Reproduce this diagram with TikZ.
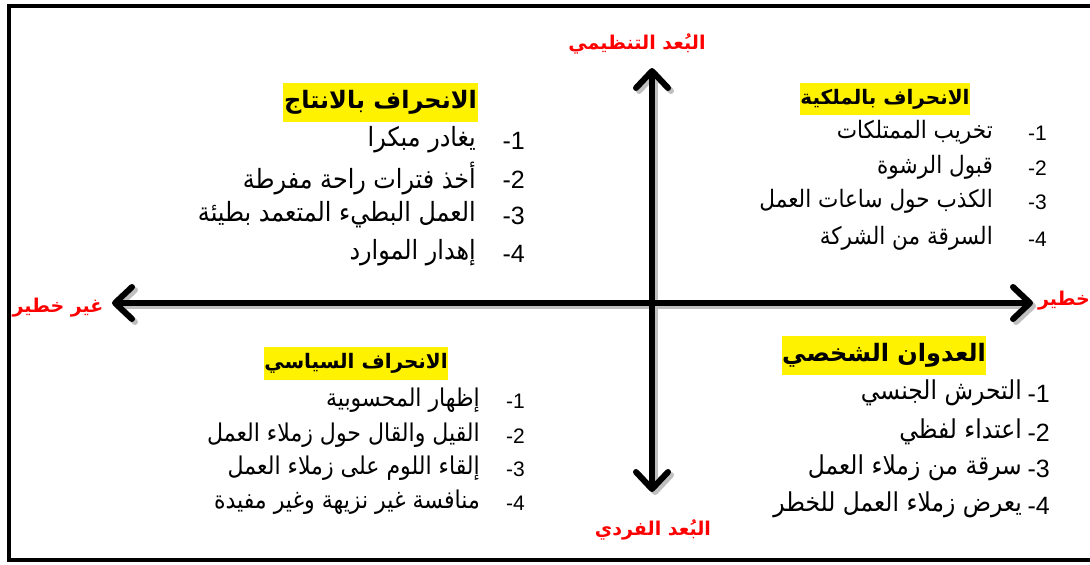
\documentclass[tikz,border=0pt]{standalone}
\usepackage{fontspec}
\setmainfont{Liberation Sans}
\newfontfamily\arabicfont[Script=Arabic, FakeStretch=0.9]{DejaVu Sans}
\newfontfamily\arabicbold[Script=Arabic]{DejaVu Sans Bold}
\TeXXeTstate=1
\usetikzlibrary{arrows.meta}
\tikzset{axtip/.tip={Straight Barb[length=17pt,width=32pt,round]}}
\begin{document}
\begin{tikzpicture}[x=1pt,y=-1pt,
  itemA/.style={anchor=east, inner sep=0pt, font=\arabicfont\fontsize{26.5}{30}\selectfont},
  itemB/.style={anchor=east, inner sep=0pt, font=\arabicfont\fontsize{24}{28}\selectfont},
  itemC/.style={anchor=east, inner sep=0pt, font=\arabicfont\fontsize{24.5}{28}\selectfont},
  itemD/.style={anchor=east, inner sep=0pt, font=\arabicfont\fontsize{26}{30}\selectfont},
  num/.style={anchor=east, inner sep=0pt, font=\fontsize{25}{28}\selectfont},
  numS/.style={anchor=east, inner sep=0pt, font=\fontsize{21}{24}\selectfont},
  ttl/.style={fill=yellow, inner sep=0pt, font=\arabicbold\fontsize{24}{28}\selectfont},
  ttlS/.style={fill=yellow, inner sep=0pt, font=\arabicbold\fontsize{20}{24}\selectfont},
  axlbl/.style={text=red, inner sep=0pt, font=\arabicbold\fontsize{19}{23}\selectfont},
  axis/.style={line width=6pt, {axtip}-{axtip}},
  axshadow/.style={line width=6pt, black!25, {axtip}-{axtip}}
]
\useasboundingbox (0,0) rectangle (1090,565);
\draw[line width=4pt] (9,6) rectangle (1110,560);

% axes
\coordinate (top) at (652,68);
\coordinate (bot) at (652,492);
\coordinate (lft) at (112,303);
\coordinate (rgt) at (1033,303);
\coordinate (topS) at (655,71);
\coordinate (botS) at (655,495);
\coordinate (lftS) at (115,306);
\coordinate (rgtS) at (1036,306);
\draw[axshadow] (botS) -- (topS);
\draw[axshadow] (lftS) -- (rgtS);
\draw[axis] (bot) -- (top);
\draw[axis] (lft) -- (rgt);

% axis labels
\node[axlbl] (lt) at (637,44) {\beginR البُعد التنظيمي\endR};
\node[axlbl] (lb) at (653,530) {\beginR البُعد الفردي\endR};
\node[axlbl] (ll) at (58,308) {\beginR غير خطير\endR};
\node[axlbl,anchor=east] (lr) at (1090,301) {\beginR خطير\endR};

% upper left
\node[ttl, minimum width=195pt, minimum height=39pt] (t1) at (380.5,102.5) {\beginR الانحراف بالانتاج\endR};
\node[num] (n11) at (525,141) {-1};
\node[num] (n12) at (525,180) {-2};
\node[num] (n13) at (525,216) {-3};
\node[num] (n14) at (525,254) {-4};
\node[itemA] (a11) at (476,140) {\beginR يغادر مبكرا\endR};
\node[itemA] (a12) at (476,179) {\beginR أخذ فترات راحة مفرطة\endR};
\node[itemA] (a13) at (476,215) {\beginR العمل البطيء المتعمد بطيئة\endR};
\node[itemA] (a14) at (476,253) {\beginR إهدار الموارد\endR};

% upper right
\node[ttlS, minimum width=164pt, minimum height=32pt] (t2) at (885,99) {\beginR الانحراف بالملكية\endR};
\node[numS] (n21) at (1047,133) {-1};
\node[numS] (n22) at (1047,168) {-2};
\node[numS] (n23) at (1047,202) {-3};
\node[numS] (n24) at (1047,239) {-4};
\node[itemB] (a21) at (993,132) {\beginR تخريب الممتلكات\endR};
\node[itemB] (a22) at (993,167) {\beginR قبول الرشوة\endR};
\node[itemB] (a23) at (993,201) {\beginR الكذب حول ساعات العمل\endR};
\node[itemB] (a24) at (993,238) {\beginR السرقة من الشركة\endR};

% lower left
\node[ttlS, minimum width=176pt, minimum height=33pt] (t3) at (356,363.5) {\beginR الانحراف السياسي\endR};
\node[numS] (n31) at (525,401) {-1};
\node[numS] (n32) at (525,436) {-2};
\node[numS] (n33) at (525,469) {-3};
\node[numS] (n34) at (525,503) {-4};
\node[itemC] (a31) at (480,400) {\beginR إظهار المحسوبية\endR};
\node[itemC] (a32) at (480,435) {\beginR القيل والقال حول زملاء العمل\endR};
\node[itemC] (a33) at (480,468) {\beginR إلقاء اللوم على زملاء العمل\endR};
\node[itemC] (a34) at (480,502) {\beginR منافسة غير نزيهة وغير مفيدة\endR};

% lower right
\node[ttl, minimum width=194pt, minimum height=39pt] (t4) at (884,355.5) {\beginR العدوان الشخصي\endR};
\node[num] (n41) at (1050,394) {-1};
\node[num] (n42) at (1050,433) {-2};
\node[num] (n43) at (1050,469) {-3};
\node[num] (n44) at (1050,506) {-4};
\node[itemD] (a41) at (1022,393) {\beginR التحرش الجنسي\endR};
\node[itemD] (a42) at (1022,432) {\beginR اعتداء لفظي\endR};
\node[itemD] (a43) at (1022,468) {\beginR سرقة من زملاء العمل\endR};
\node[itemD] (a44) at (1022,505) {\beginR يعرض زملاء العمل للخطر\endR};
\end{tikzpicture}
\end{document}
